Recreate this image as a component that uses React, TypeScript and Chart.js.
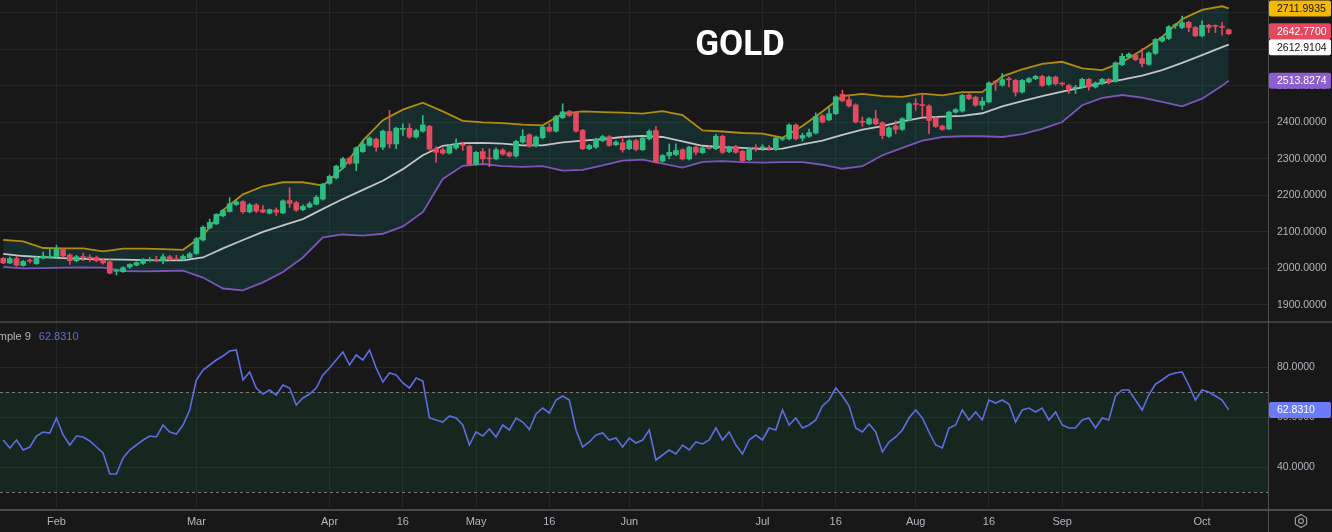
import React, { useEffect, useRef } from 'react';
import { Chart, registerables } from 'chart.js';

Chart.register(...registerables);

// ---------- data ----------
const opens = [
  2028, 2015, 2027, 2008, 2021, 2013, 2028, 2030, 2032, 2052,
  2037, 2021, 2032, 2031, 2030, 2023, 2018, 1992, 1991, 2004,
  2009, 2014, 2022, 2025, 2021, 2032, 2026, 2024, 2030, 2041,
  2078, 2111, 2122, 2144, 2156, 2175, 2183, 2155, 2174, 2161,
  2151, 2160, 2152, 2186, 2180, 2161, 2168, 2176, 2190, 2233,
  2248, 2277, 2302, 2288, 2320, 2337, 2354, 2332, 2375, 2341,
  2381, 2384, 2360, 2376, 2389, 2328, 2325, 2316, 2330, 2340,
  2335, 2285, 2320, 2303, 2300, 2324, 2317, 2308, 2346, 2366,
  2336, 2358, 2387, 2376, 2413, 2430, 2426, 2378, 2328, 2332,
  2350, 2361, 2339, 2344, 2328, 2350, 2325, 2355, 2378, 2294,
  2309, 2312, 2325, 2300, 2332, 2317, 2331, 2328, 2362, 2320,
  2334, 2321, 2298, 2331, 2330, 2331, 2326, 2354, 2355, 2393,
  2357, 2362, 2371, 2418, 2407, 2424, 2477, 2462, 2448, 2403,
  2396, 2410, 2399, 2362, 2390, 2381, 2407, 2451, 2449, 2445,
  2412, 2390, 2382, 2428, 2431, 2475, 2469, 2447, 2456, 2511,
  2502, 2519, 2515, 2483, 2511, 2520, 2526, 2504, 2524, 2507,
  2501, 2494, 2497, 2518, 2497, 2506, 2518, 2512, 2558, 2579,
  2584, 2575, 2559, 2589, 2623, 2630, 2665, 2660, 2674, 2660,
  2637, 2666, 2665, 2663, 2654,
];
const highs = [
  2030, 2031, 2034, 2022, 2026, 2032, 2045, 2054, 2064, 2055,
  2040, 2036, 2042, 2037, 2034, 2027, 2026, 1997, 2005, 2013,
  2018, 2027, 2030, 2033, 2039, 2036, 2036, 2037, 2044, 2085,
  2117, 2135, 2150, 2162, 2194, 2186, 2186, 2178, 2178, 2172,
  2163, 2166, 2188, 2221, 2184, 2174, 2182, 2200, 2233, 2256,
  2283, 2304, 2305, 2333, 2350, 2361, 2357, 2379, 2433, 2387,
  2396, 2396, 2382, 2419, 2392, 2334, 2330, 2340, 2355, 2346,
  2338, 2321, 2328, 2328, 2330, 2328, 2320, 2351, 2380, 2369,
  2363, 2390, 2396, 2419, 2451, 2433, 2429, 2381, 2340, 2357,
  2365, 2364, 2350, 2360, 2353, 2354, 2360, 2380, 2389, 2312,
  2341, 2341, 2328, 2335, 2335, 2333, 2335, 2367, 2365, 2335,
  2337, 2324, 2331, 2339, 2339, 2337, 2360, 2359, 2396, 2396,
  2370, 2382, 2426, 2421, 2440, 2473, 2488, 2474, 2451, 2415,
  2413, 2433, 2402, 2388, 2404, 2413, 2454, 2465, 2479, 2448,
  2415, 2393, 2431, 2438, 2477, 2478, 2472, 2469, 2511, 2515,
  2534, 2524, 2518, 2518, 2523, 2529, 2529, 2527, 2527, 2510,
  2504, 2501, 2521, 2521, 2511, 2521, 2521, 2566, 2589, 2590,
  2587, 2602, 2593, 2630, 2636, 2665, 2671, 2691, 2677, 2663,
  2678, 2669, 2667, 2674, 2656,
];
const lows = [
  2013, 2013, 2006, 2006, 2015, 2011, 2026, 2028, 2030, 2030,
  2011, 2018, 2021, 2019, 2018, 2012, 1985, 1982, 1989, 2000,
  2007, 2011, 2019, 2018, 2013, 2022, 2023, 2022, 2028, 2038,
  2075, 2109, 2120, 2141, 2154, 2172, 2151, 2152, 2153, 2152,
  2149, 2145, 2150, 2167, 2156, 2158, 2166, 2174, 2187, 2230,
  2245, 2273, 2285, 2268, 2318, 2335, 2321, 2325, 2330, 2328,
  2364, 2356, 2357, 2373, 2324, 2291, 2312, 2313, 2326, 2323,
  2283, 2283, 2288, 2279, 2297, 2310, 2305, 2305, 2343, 2332,
  2333, 2355, 2373, 2373, 2410, 2416, 2373, 2325, 2325, 2329,
  2347, 2334, 2336, 2318, 2325, 2322, 2323, 2352, 2289, 2291,
  2300, 2309, 2297, 2297, 2311, 2314, 2326, 2325, 2315, 2317,
  2315, 2292, 2295, 2321, 2323, 2323, 2323, 2350, 2352, 2352,
  2349, 2359, 2368, 2398, 2404, 2421, 2456, 2442, 2398, 2389,
  2393, 2393, 2355, 2359, 2369, 2378, 2404, 2433, 2415, 2369,
  2386, 2378, 2380, 2425, 2428, 2462, 2444, 2435, 2453, 2488,
  2499, 2497, 2472, 2480, 2508, 2517, 2498, 2501, 2502, 2500,
  2479, 2479, 2494, 2488, 2494, 2503, 2505, 2510, 2555, 2576,
  2569, 2552, 2556, 2586, 2620, 2627, 2657, 2657, 2648, 2634,
  2634, 2646, 2646, 2639, 2640,
];
const closes = [
  2015, 2027, 2009, 2019, 2020, 2028, 2034, 2033, 2053, 2034,
  2021, 2032, 2030, 2027, 2021, 2015, 1987, 1994, 2002, 2011,
  2016, 2023, 2024, 2022, 2032, 2024, 2024, 2033, 2040, 2081,
  2113, 2126, 2148, 2159, 2177, 2182, 2155, 2174, 2157, 2154,
  2161, 2154, 2185, 2178, 2160, 2170, 2177, 2195, 2231, 2252,
  2280, 2300, 2288, 2330, 2341, 2357, 2332, 2376, 2341, 2384,
  2383, 2360, 2378, 2393, 2327, 2318, 2316, 2335, 2341, 2337,
  2285, 2318, 2300, 2300, 2325, 2313, 2308, 2348, 2362, 2335,
  2360, 2387, 2376, 2416, 2429, 2419, 2376, 2328, 2337, 2354,
  2361, 2337, 2346, 2325, 2350, 2326, 2357, 2376, 2291, 2309,
  2318, 2323, 2300, 2332, 2318, 2330, 2329, 2362, 2318, 2332,
  2318, 2295, 2328, 2329, 2332, 2329, 2357, 2356, 2393, 2355,
  2364, 2372, 2416, 2401, 2424, 2470, 2459, 2445, 2401, 2400,
  2410, 2396, 2364, 2385, 2381, 2410, 2451, 2449, 2446, 2405,
  2389, 2381, 2428, 2435, 2474, 2465, 2447, 2458, 2508, 2510,
  2517, 2517, 2483, 2515, 2520, 2526, 2501, 2524, 2506, 2505,
  2492, 2496, 2518, 2497, 2508, 2518, 2511, 2563, 2581, 2587,
  2572, 2561, 2590, 2627, 2633, 2662, 2667, 2673, 2660, 2637,
  2666, 2660, 2663, 2660, 2642.77,
];

// Bollinger band readings (bar index, value)
const bandIndex = [
  0, 3, 6, 9, 12, 15, 18, 21, 24, 27, 30, 33, 36, 39, 42, 45, 48, 51, 54, 57,
  60, 63, 66, 69, 72, 75, 78, 81, 84, 87, 90, 93, 96, 99, 102, 105, 108, 111, 114, 117,
  120, 123, 126, 129, 132, 135, 138, 141, 144, 147, 150, 153, 156, 159, 162, 165, 168, 171, 174, 177,
  180, 183, 184,
];
const bbUpper = [
  2078, 2074, 2056, 2055, 2055, 2047, 2054, 2054, 2053, 2051,
  2090, 2160, 2203, 2225, 2236, 2236, 2227, 2275, 2350, 2406,
  2435, 2454, 2430, 2404, 2400, 2398, 2394, 2392, 2424, 2430,
  2428, 2427, 2424, 2431, 2420, 2378, 2375, 2371, 2369, 2358,
  2390, 2430, 2472, 2478, 2472, 2470, 2479, 2474, 2483, 2483,
  2526, 2545, 2560, 2566, 2548, 2543, 2565, 2598, 2634, 2683,
  2708, 2718, 2711.9935,
];
const bbMiddle = [
  2040, 2034, 2031, 2028, 2026, 2025, 2024, 2023, 2022, 2022,
  2030, 2055, 2078, 2100, 2118, 2135, 2163, 2190, 2215, 2240,
  2272, 2310, 2336, 2343, 2344, 2342, 2337, 2337, 2345, 2350,
  2354, 2360, 2363, 2360, 2348, 2336, 2332, 2330, 2327, 2328,
  2340, 2350, 2366, 2380, 2390, 2403, 2413, 2416, 2418, 2425,
  2444, 2458, 2472, 2484, 2496, 2508, 2517, 2528, 2543, 2563,
  2584, 2606, 2612.9104,
];
const bbLower = [
  2004, 2000, 2001, 2002, 2003, 2002, 1993, 1992, 1993, 1994,
  1975, 1945, 1940, 1962, 1990, 2030, 2085, 2093, 2090, 2095,
  2115, 2154, 2245, 2281, 2286, 2280, 2278, 2280, 2268, 2270,
  2282, 2295, 2298, 2287, 2276, 2292, 2294, 2291, 2290, 2291,
  2291, 2284, 2273, 2280, 2310, 2330, 2350, 2360, 2362, 2362,
  2360, 2368, 2382, 2401, 2447, 2467, 2475, 2468, 2456, 2444,
  2465, 2500, 2513.8274,
];

const rsiValues = [
  50.8, 47.6, 50.8, 46.8, 48, 52.4, 54, 53.6, 59.6, 52.8,
  48.8, 52.4, 52, 50.4, 48, 45.6, 37.2, 37.2, 43.6, 46.8,
  48.8, 50.8, 52.4, 52, 56.8, 54, 53.2, 56.8, 62.8, 74.8,
  78.8, 80.8, 82.8, 84.4, 86.4, 86.8, 74.8, 78, 71.6, 69.2,
  70.8, 68.8, 72.8, 71.6, 64.8, 67.6, 69.2, 71.6, 76.8, 79.6,
  82.8, 86, 80.8, 84.8, 82.8, 86.8, 79.6, 74, 77.6, 76.8,
  73.6, 71.6, 75.6, 74.4, 59.6, 58.8, 58, 60.4, 59.6, 56.8,
  48.8, 54, 52.4, 55.2, 52, 56.8, 54.8, 59.6, 58, 55,
  61.2, 63.6, 61.6, 66.8, 68.4, 66.8, 54.8, 48, 50, 52.8,
  53.6, 50.8, 51.6, 48, 51.6, 49.6, 50.8, 54.8, 42.8, 44.8,
  46.8, 45.2, 48.8, 46.8, 50, 49.2, 50.8, 55.6, 50.8, 54,
  48.8, 45.2, 50.8, 52.8, 50.8, 55.6, 54.8, 62.8, 56.8, 59.6,
  55.6, 56.8, 58.8, 64.4, 66.8, 71.6, 68.4, 64.4, 55.6, 54,
  57.2, 54, 46, 50, 52, 54.8, 59.6, 62.8, 59.6, 54,
  48.8, 47.6, 55.6, 56.8, 62.8, 58.8, 62, 58.8, 66.8, 65.6,
  66.8, 65.2, 58, 62.8, 63.6, 62, 63.6, 58.8, 62, 56.8,
  55.6, 55.6, 58.8, 59.6, 55.6, 59.6, 58.8, 68.4, 70.8, 70.8,
  66.8, 62.8, 68.8, 73.2, 74.8, 76.8, 77.6, 78, 72.8, 66.8,
  70.8, 70, 68.4, 66.8, 62.831,
];

const tickIndex = [8, 29, 49, 60, 71, 82, 94, 114, 125, 137, 148, 159, 180];
const tickLabels = ['Feb', 'Mar', 'Apr', '16', 'May', '16', 'Jun', 'Jul', '16', 'Aug', '16', 'Sep', 'Oct'];
const priceTicks = [1900, 2000, 2100, 2200, 2300, 2400, 2500, 2600, 2700];
const rsiTicks = [40, 60, 80];
const rsiUpperLevel = 70;
const rsiLowerLevel = 30;

const titleText = 'GOLD';
const legendName = 'Simple 9';

// ---------- style ----------
const BG = '#181818';
const GRID = '#262626';
const AXIS_TEXT = '#b2b5be';
const UP = '#2ebd85';
const DOWN = '#e5485f';
const UPPER_C = '#b08d12';
const MIDDLE_C = '#c4c4c4';
const LOWER_C = '#7b55b8';
const RSI_C = '#5e6ee0';
const RSI_TAG = '#6a7af8';
const FONT = '"Liberation Sans", Arial, sans-serif';
const AXIS_W = 64;
const X_MIN = -0.48;
const X_MAX = 189.9;

function drawTag(ctx: CanvasRenderingContext2D, x: number, y: number, w: number, h: number, bg: string, fg: string, text: string) {
  ctx.save();
  ctx.fillStyle = bg;
  ctx.beginPath();
  const r = 2;
  const top = y - h / 2;
  ctx.moveTo(x + r, top);
  ctx.lineTo(x + w - r, top);
  ctx.quadraticCurveTo(x + w, top, x + w, top + r);
  ctx.lineTo(x + w, top + h - r);
  ctx.quadraticCurveTo(x + w, top + h, x + w - r, top + h);
  ctx.lineTo(x + r, top + h);
  ctx.quadraticCurveTo(x, top + h, x, top + h - r);
  ctx.lineTo(x, top + r);
  ctx.quadraticCurveTo(x, top, x + r, top);
  ctx.fill();
  ctx.fillStyle = fg;
  ctx.font = `10.5px ${FONT}`;
  ctx.textBaseline = 'middle';
  ctx.textAlign = 'left';
  ctx.fillText(text, x + 8, y + 0.5);
  ctx.restore();
}

const makeX = (showLabels: boolean) => ({
  type: 'linear' as const,
  min: X_MIN,
  max: X_MAX,
  offset: false,
  grid: { color: GRID, drawTicks: false, lineWidth: 1, offset: false },
  border: { display: false },
  ticks: {
    display: showLabels,
    color: AXIS_TEXT,
    font: { family: FONT, size: 11 },
    padding: 7,
    maxRotation: 0,
    autoSkip: false,
    callback: (_v: any, i: number) => tickLabels[i],
  },
  afterBuildTicks: (s: any) => {
    s.ticks = tickIndex.map((v) => ({ value: v }));
  },
  afterFit: (s: any) => {
    s.height = showLabels ? 24 : 0;
    s.paddingLeft = 0;
    s.paddingRight = 0;
  },
});

const makeY = (min: number, max: number, ticks: number[]) => ({
  type: 'linear' as const,
  position: 'right' as const,
  min,
  max,
  grid: { color: GRID, drawTicks: false },
  border: { display: false },
  ticks: {
    color: AXIS_TEXT,
    font: { family: FONT, size: 10.5 },
    padding: 9,
    callback: (v: any) => Number(v).toFixed(4),
  },
  afterBuildTicks: (s: any) => {
    s.ticks = ticks.map((v) => ({ value: v }));
  },
  afterFit: (s: any) => {
    s.width = AXIS_W;
    s.paddingTop = 0;
    s.paddingBottom = 0;
  },
});

export default function App() {
  const topRef = useRef<HTMLCanvasElement | null>(null);
  const botRef = useRef<HTMLCanvasElement | null>(null);

  useEffect(() => {
    const colors = closes.map((c, i) => (c >= opens[i] ? UP : DOWN));
    const bodyData = closes.map((c, i) => ({ x: i, y: [opens[i], c] }));
    const wickData = closes.map((_c, i) => ({ x: i, y: [lows[i], highs[i]] }));
    const toPts = (arr: number[]) => bandIndex.map((x, i) => ({ x, y: arr[i] }));
    const last = closes.length - 1;

    const priceTags = {
      id: 'priceTags',
      afterDraw(chart: any) {
        const { ctx, chartArea, scales } = chart;
        const y = scales.y;
        const h = 16;
        const tags = [
          { v: bbUpper[bbUpper.length - 1], bg: '#f5b800', fg: '#131313' },
          { v: closes[last], bg: DOWN, fg: '#ffffff' },
          { v: bbMiddle[bbMiddle.length - 1], bg: '#ffffff', fg: '#131313' },
          { v: bbLower[bbLower.length - 1], bg: '#8c5ed0', fg: '#ffffff' },
        ].map((t) => ({ ...t, y: y.getPixelForValue(t.v) }));
        tags.sort((a, b) => a.y - b.y);
        for (let i = 1; i < tags.length; i++) {
          if (tags[i].y - tags[i - 1].y < h) {
            const mid = (tags[i].y + tags[i - 1].y) / 2;
            tags[i - 1].y = mid - h / 2;
            tags[i].y = mid + h / 2;
          }
        }
        tags.forEach((t) => {
          drawTag(ctx, chartArea.right + 1, t.y, chart.width - chartArea.right - 2, h, t.bg, t.fg, t.v.toFixed(4));
        });
      },
    };

    const top = new Chart(topRef.current as HTMLCanvasElement, {
      type: 'bar',
      data: {
        datasets: [
          {
            type: 'bar',
            label: 'wick',
            data: wickData as any,
            backgroundColor: colors,
            barThickness: 1,
            grouped: false,
            borderWidth: 0,
            order: 1,
          } as any,
          {
            type: 'bar',
            label: 'body',
            data: bodyData as any,
            backgroundColor: colors,
            barThickness: 5,
            grouped: false,
            borderWidth: 0,
            minBarLength: 1,
            order: 0,
          } as any,
          {
            type: 'line',
            label: 'upper',
            data: toPts(bbUpper),
            borderColor: UPPER_C,
            borderWidth: 1.8,
            pointRadius: 0,
            fill: '+2',
            backgroundColor: 'rgba(16,210,220,0.11)',
            order: 6,
          } as any,
          {
            type: 'line',
            label: 'middle',
            data: toPts(bbMiddle),
            borderColor: MIDDLE_C,
            borderWidth: 1.8,
            pointRadius: 0,
            fill: false,
            order: 4,
          } as any,
          {
            type: 'line',
            label: 'lower',
            data: toPts(bbLower),
            borderColor: LOWER_C,
            borderWidth: 1.8,
            pointRadius: 0,
            fill: false,
            order: 5,
          } as any,
        ],
      },
      options: {
        responsive: false,
        animation: false,
        layout: { padding: 0 },
        plugins: { legend: { display: false }, tooltip: { enabled: false } },
        scales: {
          x: makeX(false) as any,
          y: makeY(1853.3, 2735.2, priceTicks) as any,
        },
      },
      plugins: [priceTags],
    });

    const rsiDecor = {
      id: 'rsiDecor',
      beforeDatasetsDraw(chart: any) {
        const { ctx, chartArea, scales } = chart;
        const y = scales.y;
        const yT = y.getPixelForValue(rsiUpperLevel);
        const yB = y.getPixelForValue(rsiLowerLevel);
        ctx.save();
        ctx.fillStyle = 'rgba(20,180,110,0.1)';
        ctx.fillRect(chartArea.left, yT, chartArea.right - chartArea.left, yB - yT);
        ctx.strokeStyle = '#7a7a7a';
        ctx.lineWidth = 1;
        ctx.setLineDash([3, 3]);
        [yT, yB].forEach((py) => {
          ctx.beginPath();
          ctx.moveTo(chartArea.left, Math.round(py) + 0.5);
          ctx.lineTo(chartArea.right, Math.round(py) + 0.5);
          ctx.stroke();
        });
        ctx.restore();
      },
      afterDraw(chart: any) {
        const { ctx, chartArea, scales } = chart;
        const v = rsiValues[rsiValues.length - 1];
        drawTag(ctx, chartArea.right + 1, scales.y.getPixelForValue(v), chart.width - chartArea.right - 2, 16, RSI_TAG, '#ffffff', v.toFixed(4));
      },
    };

    const bot = new Chart(botRef.current as HTMLCanvasElement, {
      type: 'line',
      data: {
        datasets: [
          {
            label: 'RSI',
            data: rsiValues.map((v, i) => ({ x: i, y: v })),
            borderColor: RSI_C,
            borderWidth: 1.6,
            pointRadius: 0,
            fill: false,
          },
        ],
      },
      options: {
        responsive: false,
        animation: false,
        layout: { padding: 0 },
        plugins: { legend: { display: false }, tooltip: { enabled: false } },
        scales: {
          x: makeX(true) as any,
          y: makeY(23.6, 98, rsiTicks) as any,
        },
      },
      plugins: [rsiDecor],
    });

    return () => {
      top.destroy();
      bot.destroy();
    };
  }, []);

  return (
    <div
      style={{
        position: 'absolute',
        left: 0,
        top: 0,
        width: 1332,
        height: 532,
        background: BG,
        overflow: 'hidden',
        fontFamily: FONT,
      }}
    >
      <canvas ref={topRef} width={1332} height={322} style={{ position: 'absolute', left: 0, top: 0 }} />
      <canvas ref={botRef} width={1332} height={210} style={{ position: 'absolute', left: 0, top: 322 }} />
      <div style={{ position: 'absolute', left: 0, top: 321, width: 1332, height: 2, background: '#3e3e3e' }} />
      <div style={{ position: 'absolute', left: 0, top: 509, width: 1332, height: 2, background: '#4a4a4a' }} />
      <div style={{ position: 'absolute', left: 1268, top: 0, width: 1, height: 532, background: '#505050' }} />
      <div
        style={{
          position: 'absolute',
          left: 740,
          top: 26,
          transform: 'translateX(-50%)',
          color: '#ffffff',
          fontFamily: 'Roboto, "Liberation Sans", sans-serif',
          fontWeight: 700,
          fontSize: 35,
          lineHeight: 1,
          whiteSpace: 'nowrap',
        }}
      >
        {titleText}
      </div>
      <div
        style={{
          position: 'absolute',
          left: 0,
          top: 330,
          width: 200,
          overflow: 'hidden',
          whiteSpace: 'nowrap',
          fontSize: 11,
          lineHeight: '13px',
          color: AXIS_TEXT,
        }}
      >
        <span style={{ marginLeft: -12 }}>{legendName}</span>
        <span style={{ marginLeft: 8, color: RSI_C }}>{rsiValues[rsiValues.length - 1].toFixed(4)}</span>
      </div>
      <svg width={16} height={16} style={{ position: 'absolute', left: 1293, top: 513 }}>
        <polygon points="8,1.5 13.6,4.75 13.6,11.25 8,14.5 2.4,11.25 2.4,4.75" fill="none" stroke="#9a9a9a" strokeWidth={1.2} />
        <circle cx={8} cy={8} r={2.4} fill="none" stroke="#9a9a9a" strokeWidth={1.2} />
      </svg>
    </div>
  );
}
